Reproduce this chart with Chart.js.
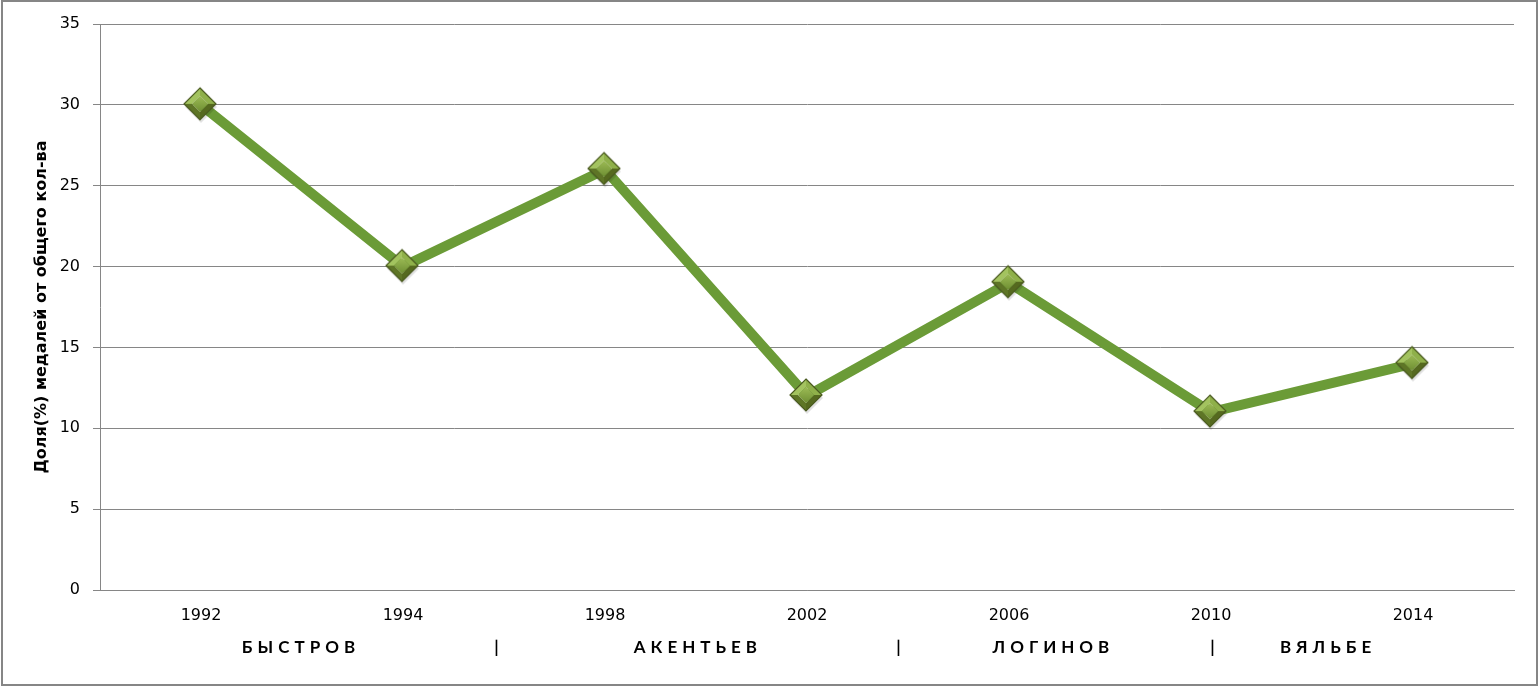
<!DOCTYPE html>
<html lang="ru">
  <head>
    <meta charset="UTF-8" />
    <script src="https://cdn.jsdelivr.net/npm/chart.js@4.4.1/dist/chart.umd.min.js"></script>
    <title>Доля медалей</title>
    <style>
      body { margin: 0; padding: 0; background: #fff; }
      .wrap { position: relative; width: 1539px; height: 687px; }
    </style>
  </head>
  <body>
    <div class="wrap">
      <canvas id="chart"></canvas>
    </div>
    <script>
      const years = ['1992', '1994', '1998', '2002', '2006', '2010', '2014']
      const shares = [30, 20, 26, 12, 19, 11, 14]
      const yTicks = [0, 5, 10, 15, 20, 25, 30, 35]
      // second row under the years: coaches and separators, placed in category units
      const coachLabels = ['БЫСТРОВ', '|', 'АКЕНТЬЕВ', '|', 'ЛОГИНОВ', '|', 'ВЯЛЬБЕ']
      const coachSpots = [0.485, 1.465, 2.45, 3.455, 4.21, 5.01, 5.57]

      const gridColor = '#868686'
      const lineColor = '#6b9b37'

      // bevelled olive diamond, like the office marker (drawn at its own size)
      const makeMarker = (r) => {
        const c = document.createElement('canvas')
        const s = r * 2 + 6
        c.width = s
        c.height = s
        const g = c.getContext('2d')
        const cx = r + 2, cy = r + 2
        // soft shadow
        g.fillStyle = 'rgba(0,0,0,0.12)'
        g.beginPath()
        g.moveTo(cx + 1, cy - r + 3); g.lineTo(cx + r + 1, cy + 3)
        g.lineTo(cx + 1, cy + r + 3); g.lineTo(cx - r + 1, cy + 3)
        g.closePath(); g.fill()
        const pts = [[cx, cy - r], [cx + r, cy], [cx, cy + r], [cx - r, cy]]
        const shades = ['#8fb04a', '#55691f', '#5e7526', '#a3c35f']
        const k = 0.5
        for (let i = 0; i < 4; i++) {
          const a = pts[i], b = pts[(i + 1) % 4]
          g.fillStyle = shades[i]
          g.beginPath()
          g.moveTo(a[0], a[1]); g.lineTo(b[0], b[1])
          g.lineTo(cx + (b[0] - cx) * k, cy + (b[1] - cy) * k)
          g.lineTo(cx + (a[0] - cx) * k, cy + (a[1] - cy) * k)
          g.closePath(); g.fill()
        }
        const grad = g.createLinearGradient(cx, cy - r * k, cx, cy + r * k)
        grad.addColorStop(0, '#9cbb55')
        grad.addColorStop(1, '#6f8f33')
        g.fillStyle = grad
        g.beginPath()
        pts.forEach((p, i) => {
          const x = cx + (p[0] - cx) * k, y = cy + (p[1] - cy) * k
          i ? g.lineTo(x, y) : g.moveTo(x, y)
        })
        g.closePath(); g.fill()
        g.strokeStyle = '#4a5a20'
        g.lineWidth = 1.2
        g.beginPath()
        pts.forEach((p, i) => (i ? g.lineTo(p[0], p[1]) : g.moveTo(p[0], p[1])))
        g.closePath(); g.stroke()
        return c
      }
      const marker = makeMarker(16)

      const coachRow = {
        id: 'coachRow',
        afterDraw(chart) {
          const { ctx, scales } = chart
          ctx.save()
          ctx.fillStyle = '#000'
          ctx.font = 'bold 17px Lato'
          ctx.letterSpacing = '5px'
          ctx.textAlign = 'center'
          ctx.textBaseline = 'middle'
          coachLabels.forEach((t, i) => {
            ctx.fillText(t, scales.x.getPixelForValue(coachSpots[i]) + 2, 648)
          })
          ctx.restore()
        },
      }

      const frame = {
        id: 'frame',
        afterDraw(chart) {
          const { ctx, width, height } = chart
          ctx.save()
          ctx.strokeStyle = '#868686'
          ctx.lineWidth = 2
          ctx.strokeRect(2, 1, width - 4, height - 3)
          ctx.restore()
        },
      }

      new Chart(document.getElementById('chart'), {
        type: 'line',
        data: {
          labels: years,
          datasets: [
            {
              data: shares,
              borderColor: lineColor,
              borderWidth: 10,
              tension: 0,
              pointStyle: marker,
              pointRadius: 8,
              pointHoverRadius: 8,
              pointBorderWidth: 0,
            },
          ],
        },
        options: {
          responsive: true,
          maintainAspectRatio: false,
          animation: false,
          layout: { padding: { left: 0, top: 24, right: 25, bottom: 0 } },
          plugins: {
            legend: { display: false },
            tooltip: { enabled: false },
          },
          scales: {
            x: {
              offset: true,
              grid: { display: false, drawTicks: false },
              border: { color: gridColor, width: 1 },
              ticks: {
                color: '#000',
                padding: 16,
                font: { family: 'DejaVu Sans', size: 16 },
                maxRotation: 0,
              },
              afterFit: (s) => { s.height = 97 },
            },
            y: {
              min: 0,
              max: 35,
              afterBuildTicks: (s) => { s.ticks = yTicks.map((v) => ({ value: v })) },
              grid: { color: gridColor, tickLength: 7 },
              border: { color: gridColor, width: 1 },
              ticks: {
                color: '#000',
                padding: 13,
                font: { family: 'DejaVu Sans', size: 16 },
              },
              title: {
                display: true,
                text: 'Доля(%) медалей от общего кол-ва',
                color: '#000',
                font: { family: 'DejaVu Sans', size: 16, weight: 'bold' },
                padding: { top: 32, bottom: 0 },
              },
              afterFit: (s) => { s.width = 100 },
            },
          },
        },
        plugins: [coachRow, frame],
      })
    </script>
  </body>
</html>
